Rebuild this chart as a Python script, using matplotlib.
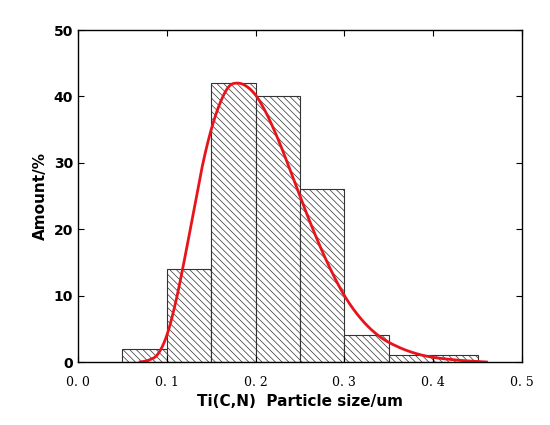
import matplotlib
matplotlib.use("Agg")
import matplotlib.pyplot as plt
import numpy as np

bin_left = [0.05, 0.10, 0.15, 0.20, 0.25, 0.30, 0.35, 0.40]
amount = [2, 14, 42, 40, 26, 4, 1, 1]
curve_x = [0.07, 0.08, 0.09, 0.10, 0.11, 0.12, 0.13, 0.14, 0.15, 0.16, 0.17, 0.18, 0.19, 0.20, 0.21, 0.22, 0.23, 0.24, 0.26, 0.28, 0.30, 0.32, 0.34, 0.36, 0.38, 0.40, 0.43, 0.46]
curve_y = [0.0, 0.3, 1.2, 4.0, 9.0, 15.5, 22.5, 29.5, 35.0, 39.0, 41.5, 42.0, 41.5, 40.2, 38.0, 35.2, 32.0, 28.5, 21.5, 15.2, 10.0, 6.3, 3.8, 2.3, 1.3, 0.7, 0.25, 0.0]
xticks = [0.0, 0.1, 0.2, 0.3, 0.4, 0.5]
yticks = [0, 10, 20, 30, 40, 50]

def catmull(px, py, n=20):
    px = np.array(px); py = np.array(py)
    P = np.column_stack([px, py])
    P = np.vstack([P[0], P, P[-1]])
    out = []
    for i in range(1, len(P) - 2):
        p0, p1, p2, p3 = P[i-1], P[i], P[i+1], P[i+2]
        for t in np.linspace(0, 1, n, endpoint=False):
            t2, t3 = t*t, t*t*t
            out.append(0.5*((2*p1) + (-p0+p2)*t + (2*p0-5*p1+4*p2-p3)*t2 + (-p0+3*p1-3*p2+p3)*t3))
    out.append(P[-2])
    out = np.array(out)
    return out[:, 0], out[:, 1]

plt.rcParams['hatch.color'] = '#777777'
plt.rcParams['hatch.linewidth'] = 0.5
fig = plt.figure(figsize=(5.5, 4.25), dpi=100)
ax = fig.add_axes([78/550, 1-362/425, 444/550, 332/425])
ax.bar(bin_left, amount, width=0.05, align='edge', facecolor='white', edgecolor='#333333', hatch='\\' * 5, linewidth=0.8)
cx, cy = catmull(curve_x, curve_y)
ax.plot(cx, cy, color='#e8141c', lw=2)
ax.set_xlim(0, 0.5)
ax.set_ylim(0, 50)
ax.set_xticks(xticks)
ax.set_xticklabels([f"{v:.1f}".replace('.', '. ') for v in xticks], family='DejaVu Serif', fontsize=9)
ax.set_yticks(yticks)
ax.set_yticklabels([str(v) for v in yticks], fontweight='bold', fontsize=10)
ax.tick_params(direction='in', top=True, right=True, length=4)
ax.tick_params(axis='x', pad=10)
ax.set_xlabel('Ti(C,N)  Particle size/um', fontweight='bold', fontsize=11, labelpad=4)
ax.set_ylabel('Amount/%', fontweight='bold', fontsize=11)
for s in ax.spines.values():
    s.set_linewidth(1.0)
fig.savefig('out.png', dpi=100)
